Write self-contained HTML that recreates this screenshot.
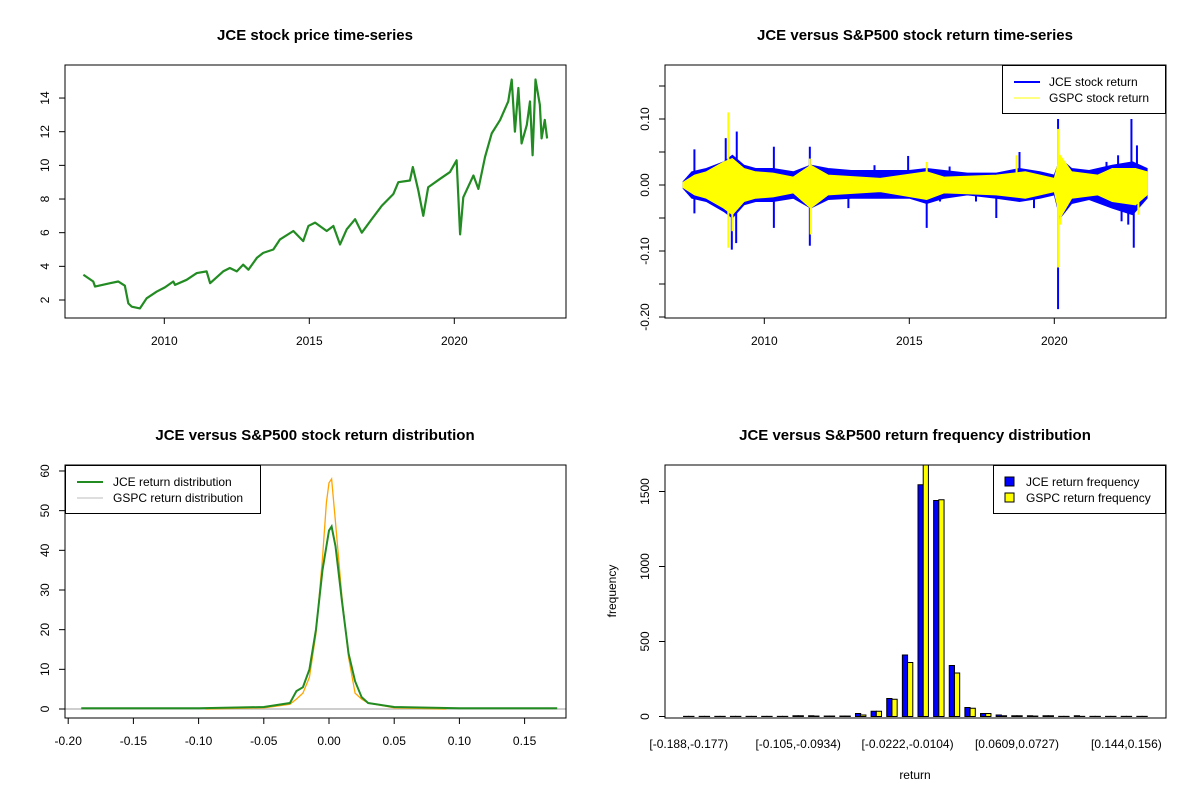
<!DOCTYPE html>
<html><head><meta charset="utf-8"><style>
html,body{margin:0;padding:0;background:#fff}
svg{display:block;font-family:"Liberation Sans",Arial,sans-serif}
</style></head><body>
<svg id="c" width="1200" height="800" viewBox="0 0 1200 800"></svg>
<script>
// ---------- data ----------
const priceYears=[2007.21,2007.55,2007.61,2008.13,2008.41,2008.64,2008.76,2008.88,2009.16,2009.39,2009.74,2010.02,2010.31,2010.37,2010.77,2011.12,2011.46,2011.58,2012.03,2012.26,2012.5,2012.72,2012.9,2013.19,2013.41,2013.76,2013.99,2014.45,2014.79,2014.97,2015.2,2015.6,2015.83,2016.06,2016.29,2016.58,2016.81,2017.15,2017.5,2017.9,2018.07,2018.47,2018.57,2018.76,2018.93,2019.1,2019.51,2019.85,2020.08,2020.14,2020.2,2020.31,2020.66,2020.83,2021.06,2021.29,2021.58,2021.86,2021.98,2022.09,2022.21,2022.32,2022.5,2022.61,2022.7,2022.8,2022.95,2023.01,2023.12,2023.2];
const priceValues=[3.5,3.1,2.8,3.0,3.1,2.85,1.8,1.6,1.5,2.1,2.5,2.75,3.1,2.9,3.2,3.6,3.7,3.0,3.7,3.9,3.7,4.1,3.8,4.5,4.8,5.0,5.6,6.1,5.5,6.4,6.6,6.1,6.4,5.3,6.2,6.8,6.0,6.8,7.6,8.3,9.0,9.1,9.9,8.5,7.0,8.7,9.2,9.6,10.3,8.1,5.9,8.1,9.4,8.6,10.5,11.9,12.7,13.8,15.1,12.0,14.6,11.3,12.4,13.8,10.6,15.1,13.6,11.6,12.7,11.6];
const priceTicks=[2,4,6,8,10,12,14];
const yearTicks=[2010,2015,2020];

const jceYears=[2007.2,2007.5,2008.0,2008.6,2008.9,2009.3,2009.7,2010.3,2011.0,2011.6,2012.2,2013.0,2014.0,2015.0,2015.6,2016.2,2017.0,2018.0,2018.8,2019.5,2020.0,2020.2,2020.6,2021.2,2022.0,2022.7,2023.2];
const jceHi=[0.005,0.02,0.025,0.035,0.045,0.03,0.025,0.025,0.02,0.03,0.025,0.022,0.022,0.022,0.025,0.022,0.018,0.018,0.025,0.02,0.015,0.04,0.025,0.022,0.03,0.035,0.025];
const jceLo=[-0.005,-0.02,-0.025,-0.04,-0.05,-0.03,-0.025,-0.025,-0.02,-0.035,-0.022,-0.02,-0.02,-0.02,-0.028,-0.02,-0.015,-0.02,-0.025,-0.02,-0.015,-0.05,-0.028,-0.022,-0.035,-0.045,-0.02];
const spYears=[2007.2,2007.6,2008.0,2008.6,2008.9,2009.3,2009.7,2010.3,2011.0,2011.6,2012.2,2014.0,2015.6,2016.2,2018.0,2019.0,2020.0,2020.2,2020.6,2021.5,2022.0,2022.8,2023.2];
const spHi=[0.004,0.015,0.02,0.035,0.04,0.025,0.02,0.018,0.012,0.03,0.015,0.01,0.02,0.012,0.015,0.02,0.01,0.045,0.02,0.015,0.025,0.025,0.02];
const spLo=[-0.004,-0.015,-0.02,-0.035,-0.045,-0.025,-0.02,-0.018,-0.012,-0.035,-0.015,-0.01,-0.022,-0.012,-0.015,-0.02,-0.01,-0.05,-0.02,-0.015,-0.025,-0.03,-0.015];
const jceSpikeYears=[2007.59,2007.59,2008.67,2008.88,2009.05,2009.03,2010.33,2010.33,2011.57,2011.57,2014.96,2015.6,2016.06,2016.39,2018.0,2018.8,2020.13,2020.13,2022.66,2022.74,2022.85,2022.32,2022.55,2022.2,2008.3,2012.9,2013.8,2017.3,2019.3,2021.8];
const jceSpikeVals=[0.054,-0.043,0.071,-0.098,0.081,-0.088,0.058,-0.065,0.058,-0.092,0.044,-0.065,-0.025,0.028,-0.05,0.05,0.1,-0.188,0.10,-0.095,0.06,-0.055,-0.06,0.045,0.03,-0.035,0.03,-0.025,-0.035,0.035];
const spSpikeYears=[2008.76,2008.76,2008.9,2011.57,2011.6,2015.6,2018.7,2020.13,2020.13,2020.22,2022.9];
const spSpikeVals=[0.11,-0.095,-0.07,0.04,-0.075,0.035,0.045,0.085,-0.125,-0.06,-0.045];
const retTicks=[-0.20,-0.15,-0.10,-0.05,0.00,0.05,0.10,0.15];

const densX=[-0.19,-0.1,-0.05,-0.03,-0.025,-0.02,-0.015,-0.01,-0.005,0,0.002,0.005,0.01,0.015,0.02,0.025,0.03,0.05,0.1,0.175];
const jceDens=[0.2,0.2,0.5,1.5,4.5,5.5,10,20,35,45,46,41,27,14,7,3,1.5,0.5,0.2,0.2];
const spDensX=[-0.095,-0.05,-0.03,-0.025,-0.02,-0.015,-0.01,-0.005,-0.002,0,0.002,0.005,0.01,0.015,0.02,0.025,0.03,0.05,0.09];
const spDens=[0,0.3,1.2,2.5,4,8,19,38,52,57,58,47,28,13,4,2.5,1.5,0.3,0];
const densYTicks=[0,10,20,30,40,50,60];
const densXTicks=[-0.20,-0.15,-0.10,-0.05,0.00,0.05,0.10,0.15];

const binLabels=["[-0.188,-0.177)","[-0.105,-0.0934)","[-0.0222,-0.0104)","[0.0609,0.0727)","[0.144,0.156)"];
const binLabelIdx=[0,7,14,21,28];
const jceFreq=[1,1,1,1,1,1,1,5,5,3,3,20,35,120,410,1545,1440,340,60,20,10,5,5,5,1,5,1,1,1,1];
const spFreq=[1,1,1,1,1,1,1,5,3,3,3,10,35,115,360,1690,1445,290,55,20,5,5,3,5,1,1,1,1,1,1];
const freqTicks=[0,500,1000,1500];

// ---------- helpers ----------
const S=document.getElementById('c');const NS='http://www.w3.org/2000/svg';
function mk(t,a,p){const e=document.createElementNS(NS,t);for(const k in a)e.setAttribute(k,a[k]);(p||S).appendChild(e);return e;}
function txt(x,y,s,size,opts){opts=opts||{};const e=mk('text',{x:x,y:y,'font-size':size,'text-anchor':opts.anchor||'middle',fill:'#000'});if(opts.bold)e.setAttribute('font-weight','bold');if(opts.rot)e.setAttribute('transform','rotate(-90 '+x+' '+y+')');e.textContent=s;return e;}
function box(x,y,w,h,name){const r=mk('rect',{x:x,y:y,width:w,height:h,fill:'none',stroke:'#000','stroke-width':1});return r;}

// ---------- panel 1: price ----------
(function(){
const L=65,T=65,W=501,H=253;
const xs=y=>164.3+(y-2010)*29, ys=v=>300-(v-2)*16.83;
const t=txt(315,40,'JCE stock price time-series',15,{bold:1});
const p=mk('polyline',{points:priceYears.map((y,i)=>xs(y)+','+ys(priceValues[i])).join(' '),fill:'none',stroke:'#228B22','stroke-width':2.2,'stroke-linejoin':'round'});

box(L,T,W,H,'price-plot-frame');
priceTicks.forEach(v=>{mk('line',{x1:L-6,x2:L,y1:ys(v),y2:ys(v),stroke:'#000'});const e=txt(49,ys(v),String(v),12,{rot:1});});
yearTicks.forEach(y=>{mk('line',{x1:xs(y),x2:xs(y),y1:T+H,y2:T+H+6,stroke:'#000'});const e=txt(xs(y),345,String(y),12);});
})();

// ---------- panel 2: returns ----------
(function(){
const L=665,T=65,W=501,H=253;
const xs=y=>764.3+(y-2010)*29, ys=v=>185-v*660;
const t=txt(915,40,'JCE versus S&P500 stock return time-series',15,{bold:1});
function band(X,hi,lo,col,name){
 let pts=X.map((y,i)=>xs(y)+','+ys(hi[i]));
 for(let i=X.length-1;i>=0;i--)pts.push(xs(X[i])+','+ys(lo[i]));
 const p=mk('polygon',{points:pts.join(' '),fill:col,stroke:col,'stroke-width':1});
 
}
function spikes(X,V,col,w,name){
 X.forEach((y,i)=>{const l=mk('line',{x1:xs(y),x2:xs(y),y1:ys(0),y2:ys(V[i]),stroke:col,'stroke-width':w});
 });
}
band(jceYears,jceHi,jceLo,'#0000FF','jce-return-series');
spikes(jceSpikeYears,jceSpikeVals,'#0000FF',2,'jce-return-spike');
band(spYears,spHi,spLo,'#FFFF00','gspc-return-series');
spikes(spSpikeYears,spSpikeVals,'#FFFF00',2,'gspc-return-spike');
box(L,T,W,H,'return-plot-frame');
retTicks.forEach(v=>{mk('line',{x1:L-6,x2:L,y1:ys(v),y2:ys(v),stroke:'#000'});});
[0.10,0.00,-0.10,-0.20].forEach(v=>{const e=txt(649,ys(v),v.toFixed(2),12,{rot:1});});
yearTicks.forEach(y=>{mk('line',{x1:xs(y),x2:xs(y),y1:T+H,y2:T+H+6,stroke:'#000'});const e=txt(xs(y),345,String(y),12);});
const g=mk('g',{});
mk('rect',{x:1002.5,y:65.5,width:163,height:48,fill:'#fff',stroke:'#000'},g);
mk('line',{x1:1014,x2:1040,y1:82,y2:82,stroke:'#0000FF','stroke-width':2},g);
mk('line',{x1:1014,x2:1040,y1:98,y2:98,stroke:'#FFFF00','stroke-width':1},g);
txt(1049,86,'JCE stock return',12,{anchor:'start'});
txt(1049,102,'GSPC stock return',12,{anchor:'start'});
})();

// ---------- panel 3: density ----------
(function(){
const L=65,T=465,W=501,H=253;
const xs=v=>329+v*1304, ys=v=>709-v*3.967;
const t=txt(315,440,'JCE versus S&P500 stock return distribution',15,{bold:1});
mk('line',{x1:L,x2:L+W,y1:ys(0),y2:ys(0),stroke:'#BEBEBE','stroke-width':1.5});
const o=mk('polyline',{points:spDensX.map((x,i)=>xs(x)+','+ys(spDens[i])).join(' '),fill:'none',stroke:'#FFA500','stroke-width':1.3});

const g=mk('polyline',{points:densX.map((x,i)=>xs(x)+','+ys(jceDens[i])).join(' '),fill:'none',stroke:'#228B22','stroke-width':2});

box(L,T,W,H,'density-plot-frame');
densYTicks.forEach(v=>{mk('line',{x1:L-6,x2:L,y1:ys(v),y2:ys(v),stroke:'#000'});const e=txt(49,ys(v),String(v),12,{rot:1});});
mk('line',{x1:xs(-0.2),x2:xs(0.15),y1:T+H,y2:T+H,stroke:'#000'});
densXTicks.forEach(v=>{mk('line',{x1:xs(v),x2:xs(v),y1:T+H,y2:T+H+6,stroke:'#000'});const e=txt(xs(v),745,v.toFixed(2),12);});
const lg=mk('g',{});
mk('rect',{x:65.5,y:465.5,width:195,height:48,fill:'#fff',stroke:'#000'},lg);
mk('line',{x1:77,x2:103,y1:482,y2:482,stroke:'#228B22','stroke-width':2},lg);
mk('line',{x1:77,x2:103,y1:498,y2:498,stroke:'#BEBEBE','stroke-width':1},lg);
txt(113,486,'JCE return distribution',12,{anchor:'start'});
txt(113,502,'GSPC return distribution',12,{anchor:'start'});
})();

// ---------- panel 4: histogram ----------
(function(){
const L=665,T=465,W=501,H=253;
const u=5.21, x0=L+2.56*u;
const ux=v=>x0+v*u, ys=v=>716.5-v*0.15;
const t=txt(915,440,'JCE versus S&P500 return frequency distribution',15,{bold:1});
const clip=mk('clipPath',{id:'hc'});mk('rect',{x:L,y:T,width:W,height:H},clip);
const bars=mk('g',{'clip-path':'url(#hc)'});
jceFreq.forEach((f,i)=>{const r=mk('rect',{x:ux(3*i+1),y:ys(f),width:u,height:ys(0)-ys(f),fill:'#0000FF',stroke:'#000','stroke-width':1},bars);
});
spFreq.forEach((f,i)=>{const r=mk('rect',{x:ux(3*i+2),y:ys(f),width:u,height:ys(0)-ys(f),fill:'#FFFF00',stroke:'#000','stroke-width':1},bars);
});
box(L,T,W,H,'hist-plot-frame');
freqTicks.forEach(v=>{mk('line',{x1:L-6,x2:L,y1:ys(v),y2:ys(v),stroke:'#000'});const e=txt(649,ys(v),String(v),12,{rot:1});});
binLabelIdx.forEach((b,k)=>{const e=txt(ux(3*b+2),748,binLabels[k],12);});
const yl=txt(616,591,'frequency',12,{rot:1});
const xl=txt(915,779,'return',12);
const lg=mk('g',{});
mk('rect',{x:993.5,y:465.5,width:172,height:48,fill:'#fff',stroke:'#000'},lg);
mk('rect',{x:1005,y:477,width:9,height:9,fill:'#0000FF',stroke:'#000'},lg);
mk('rect',{x:1005,y:493,width:9,height:9,fill:'#FFFF00',stroke:'#000'},lg);
txt(1026,486,'JCE return frequency',12,{anchor:'start'});
txt(1026,502,'GSPC return frequency',12,{anchor:'start'});
})();
</script>
</body></html>
